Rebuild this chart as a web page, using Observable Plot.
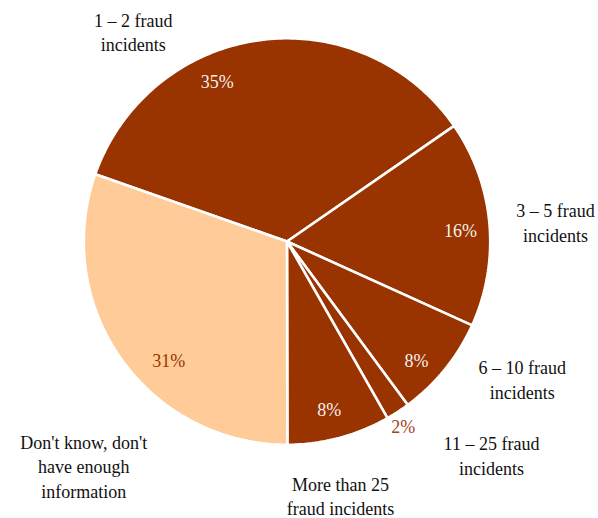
<!DOCTYPE html>
<html>
<head>
<meta charset="utf-8">
<script src="https://cdn.jsdelivr.net/npm/d3@7"></script>
<script src="https://cdn.jsdelivr.net/npm/@observablehq/plot@0.6"></script>
<style>
  html, body { margin: 0; padding: 0; background: #fff; }
  #chart svg { display: block; }
</style>
</head>
<body>
<div id="chart"></div>
<script>
// ---- data ----
const categories = [
  "1 – 2 fraud\nincidents",
  "3 – 5 fraud\nincidents",
  "6 – 10 fraud\nincidents",
  "11 – 25 fraud\nincidents",
  "More than 25\nfraud incidents",
  "Don't know, don't\nhave enough\ninformation"
];
const shares = [35.0, 16.4, 8.1, 1.9, 8.2, 30.4];
const pctLabels = ["35%", "16%", "8%", "2%", "8%", "31%"];

// ---- styling / layout ----
const sliceColors = ["#993300", "#993300", "#993300", "#993300", "#993300", "#FFCC99"];
const pctColors = ["#f4f0ec", "#f4f0ec", "#f4f0ec", "#a5421a", "#f4f0ec", "#993300"];
const startAngle = -70.67; // degrees clockwise from 12 o'clock
// label placement: [angle offset from slice middle (deg), radius fraction]
const pctLayout = [[-16, 0.861], [1.75, 0.86], [3.85, 0.874], [1.05, 1.086], [0.77, 0.861], [-10, 0.833]];
const catLayout = [[-28.47, 1.291], [0.95, 1.333], [-8.71, 1.348], [-10.77, 1.462], [2.97, 1.284], [-12.41, 1.498]];

// ---- build geometry via d3.pie ----
const total = d3.sum(shares);
const pie = d3.pie().sort(null).value(d => d)
  .startAngle(startAngle * Math.PI / 180)
  .endAngle((startAngle + 360) * Math.PI / 180);
const arcs = pie(shares);

const R = 1.006;
const slicePts = [];
arcs.forEach((a, i) => {
  slicePts.push({k: i, x: 0, y: 0, c: sliceColors[i]});
  const n = Math.max(4, Math.ceil((a.endAngle - a.startAngle) * 180 / Math.PI));
  for (let j = 0; j <= n; j++) {
    const t = a.startAngle + (a.endAngle - a.startAngle) * j / n;
    slicePts.push({k: i, x: R * Math.sin(t), y: R * Math.cos(t), c: sliceColors[i]});
  }
});

const pctData = arcs.map((a, i) => {
  const mid = (a.startAngle + a.endAngle) / 2 + pctLayout[i][0] * Math.PI / 180;
  const r = pctLayout[i][1];
  return {x: r * Math.sin(mid), y: r * Math.cos(mid), t: pctLabels[i], c: pctColors[i]};
});
const catData = arcs.map((a, i) => {
  const mid = (a.startAngle + a.endAngle) / 2 + catLayout[i][0] * Math.PI / 180;
  const r = catLayout[i][1];
  return {x: r * Math.sin(mid), y: r * Math.cos(mid), t: categories[i]};
});

const chart = Plot.plot({
  width: 598,
  height: 518,
  margin: 0,
  style: {fontFamily: "'Liberation Serif', 'Times New Roman', serif", background: "#fff"},
  x: {domain: [-1, 1], range: [84.5, 488.5], axis: null},
  y: {domain: [-1, 1], range: [443, 39], axis: null},
  color: {type: "identity"},
  marks: [
    Plot.line(slicePts, {
      x: "x", y: "y", z: "k", fill: "c",
      stroke: "#ffffff", strokeWidth: 2.6, strokeLinejoin: "miter",
      curve: "linear-closed"
    }),
    Plot.text(pctData, {
      x: "x", y: "y", text: "t", fill: "c", fontSize: 18
    }),
    Plot.text(catData, {
      x: "x", y: "y", text: "t", fill: "#111", fontSize: 18, lineHeight: 1.35, textAnchor: "middle"
    })
  ]
});
document.getElementById("chart").appendChild(chart);
</script>
</body>
</html>
